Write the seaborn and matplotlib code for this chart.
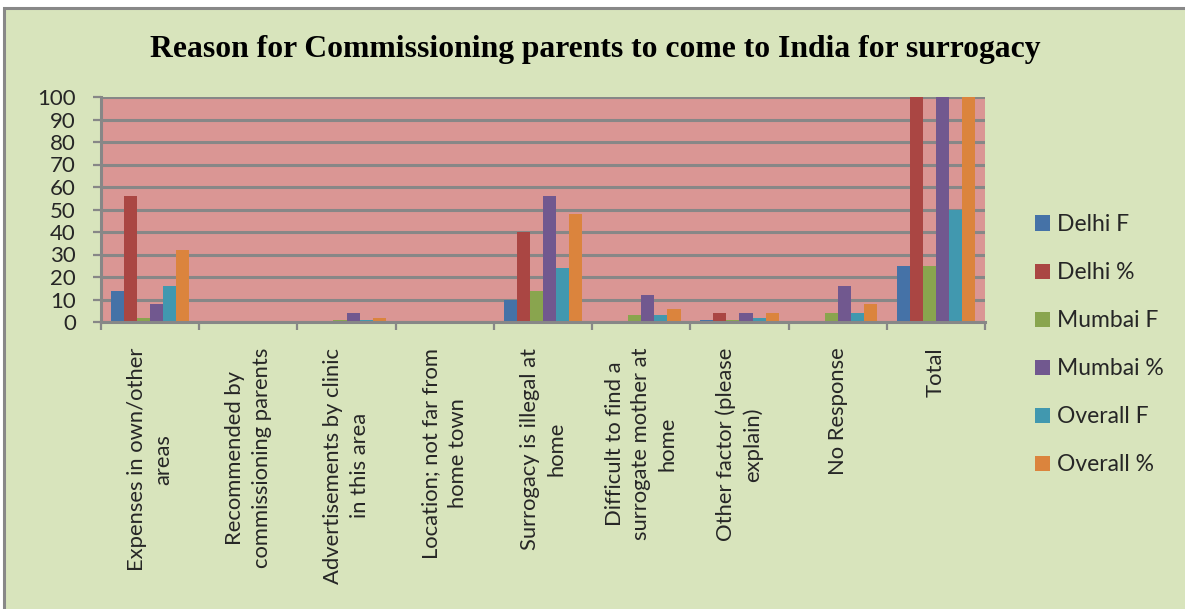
import numpy as np
import pandas as pd
import matplotlib
matplotlib.use("Agg")
import matplotlib.pyplot as plt
from matplotlib.patches import Rectangle
import seaborn as sns

# Survey reasons (x categories)
categories = [
    "Expenses in own/other\nareas",
    "Recommended by\ncommissioning parents",
    "Advertisements by clinic\nin this area",
    "Location; not far from\nhome town",
    "Surrogacy is illegal at\nhome",
    "Difficult to find a\nsurrogate mother at\nhome",
    "Other factor (please\nexplain)",
    "No Response",
    "Total",
]

# Frequencies and percentages per city
delhi_f = [14, 0, 0, 0, 10, 0, 1, 0, 25]
delhi_pct = [56, 0, 0, 0, 40, 0, 4, 0, 100]
mumbai_f = [2, 0, 1, 0, 14, 3, 1, 4, 25]
mumbai_pct = [8, 0, 4, 0, 56, 12, 4, 16, 100]
overall_f = [16, 0, 1, 0, 24, 3, 2, 4, 50]
overall_pct = [32, 0, 2, 0, 48, 6, 4, 8, 100]

series_names = ["Delhi F", "Delhi %", "Mumbai F", "Mumbai %", "Overall F", "Overall %"]
series_values = [delhi_f, delhi_pct, mumbai_f, mumbai_pct, overall_f, overall_pct]
series_colors = ["#4572A7", "#AA4643", "#89A54E", "#71588F", "#4198AF", "#DB843D"]

y_ticks = list(range(0, 101, 10))

rows = []
for name, vals in zip(series_names, series_values):
    for cat, v in zip(categories, vals):
        rows.append({"Reason": cat, "Series": name, "Value": v})
df = pd.DataFrame(rows)

sns.set_theme(style="white")
plt.rcParams["font.family"] = ["Lato", "DejaVu Sans"]

W, H = 1185, 609
fig = plt.figure(figsize=(W / 100, H / 100), dpi=100)
fig.patch.set_facecolor("white")

# Chart panel background with grey frame
panel = Rectangle((4 / W, -0.05), 1.1, 1 - 7.5 / H + 0.05, transform=fig.transFigure,
                  facecolor="#D8E4BC", edgecolor="#888888", linewidth=2.2, zorder=-5)
fig.patches.append(panel)

left, right, top, bottom = 101, 985, 97, 322
ax = fig.add_axes([left / W, 1 - bottom / H, (right - left) / W, (bottom - top) / H])
ax.set_zorder(2)
ax.set_facecolor("#DA9694")

sns.barplot(data=df, x="Reason", y="Value", hue="Series", order=categories,
            hue_order=series_names, palette=series_colors, width=0.8,
            saturation=1, linewidth=0, ax=ax, legend=True)

ax.set_ylim(0, 100)
ax.set_xlim(-0.5, len(categories) - 0.5)
ax.set_yticks(y_ticks)
ax.set_yticklabels([str(t) for t in y_ticks], fontsize=16)
ax.yaxis.grid(True, color="#878787", linewidth=2.2)
ax.set_axisbelow(True)
ax.set_xlabel("")
ax.set_ylabel("")

ax.tick_params(axis="y", which="major", direction="out", length=6, width=1.6,
               color="#878787", pad=12, left=True)
ax.set_xticks(range(len(categories)))
ax.set_xticklabels(categories, rotation=90, fontsize=15.8, va="top", ha="center",
                   multialignment="center", linespacing=1.4)
ax.tick_params(axis="x", which="major", length=0, pad=18.5)
ax.set_xticks(np.arange(-0.5, len(categories) + 0.5, 1), minor=True)
ax.tick_params(axis="x", which="minor", direction="out", length=6, width=1.6,
               color="#878787", bottom=True)

for side in ["top", "right"]:
    ax.spines[side].set_visible(False)
for side in ["left", "bottom"]:
    ax.spines[side].set_color("#878787")
    ax.spines[side].set_linewidth(2.2)

handles, labels = ax.get_legend_handles_labels()
ax.get_legend().remove()
leg = fig.legend(handles, labels, loc="upper left",
                 bbox_to_anchor=(1026 / W, 1 - 205 / H), frameon=False,
                 fontsize=16.5, handlelength=0.65, handleheight=0.65,
                 handletextpad=0.3, labelspacing=1.18, borderaxespad=0)
leg.set_zorder(3)

fig.text(0.502, 1 - 50 / H,
         "Reason for Commissioning parents to come to India for surrogacy",
         ha="center", va="center", fontsize=22.8, fontweight="bold",
         family="Liberation Serif", color="black")

fig.savefig("out.png", dpi=100, facecolor=fig.get_facecolor())
